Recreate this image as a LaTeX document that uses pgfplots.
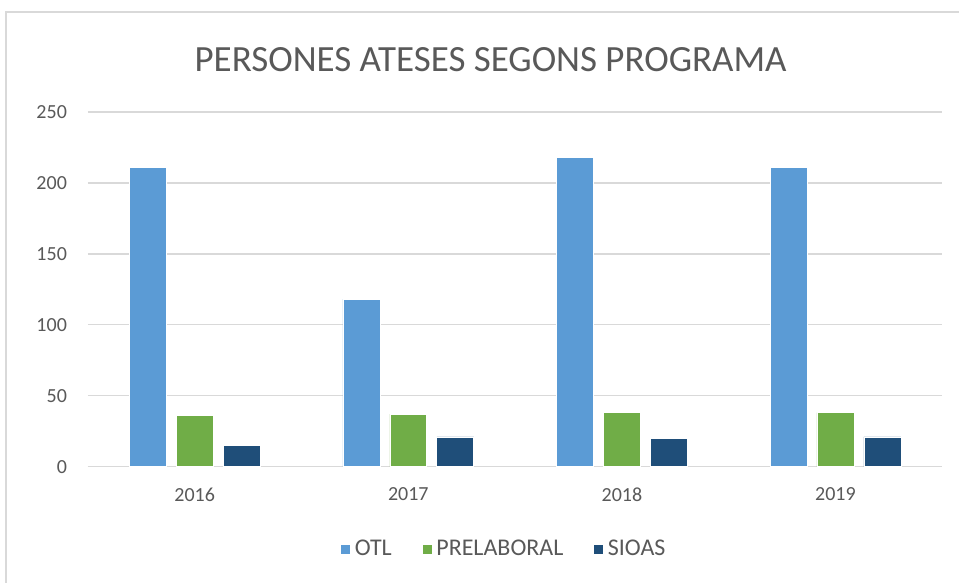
\documentclass[border=0pt]{standalone}
\usepackage{pgfplots}
\pgfplotsset{compat=1.18}
\usepackage{fontspec}
\setmainfont{Carlito}

\definecolor{otl}{HTML}{5B9BD5}
\definecolor{prel}{HTML}{70AD47}
\definecolor{sioas}{HTML}{1F4E79}
\definecolor{gridc}{HTML}{D9D9D9}
\definecolor{txt}{HTML}{595959}

\begin{document}
\begin{tikzpicture}
% canvas: 1px = 0.5pt, origin at the plot's lower left (px 88,467)
\fill[white] (-44pt,-58pt) rectangle (436pt,233.5pt);
\draw[gridc, line width=0.75pt] (-41pt,-58pt) -- (-41pt,227.5pt) -- (436pt,227.5pt);
\begin{axis}[
    at={(0,0)}, anchor=south west,
    scale only axis, width=427.5pt, height=177.5pt,
    ybar=5pt, bar width=18.5pt,
    xmin=-0.5, xmax=3.5, ymin=0, ymax=250,
    xtick=data, xticklabels={2016,2017,2018,2019},
    ytick={0,50,...,250},
    major tick length=0pt,
    axis x line*=bottom, axis y line*=left,
    x axis line style={gridc, line width=0.75pt},
    y axis line style={draw=none},
    ymajorgrids, grid style={gridc, line width=0.75pt},
    tick label style={font=\fontsize{10}{12}\selectfont, text=txt},
    /pgf/number format/assume math mode=true,
    xticklabel style={yshift=-7pt},
    yticklabel style={xshift=-7pt},
    legend style={at={(0.488,-0.234)}, anchor=center, draw=none,
        legend columns=3, font=\fontsize{12}{14}\selectfont, text=txt,
        /tikz/every even column/.append style={column sep=13pt}},
    legend image code/.code={\fill[#1] (0pt,-2.5pt) rectangle (5pt,2.5pt);},
]
\addplot[fill=otl, draw=white, line width=0.3pt] coordinates {(0,211) (1,118) (2,218) (3,211)};
\addlegendentry{OTL}
\addplot[fill=prel, draw=white, line width=0.3pt] coordinates {(0,36) (1,37) (2,38) (3,38)};
\addlegendentry{PRELABORAL}
\addplot[fill=sioas, draw=white, line width=0.3pt] coordinates {(0,15) (1,21) (2,20) (3,21)};
\addlegendentry{SIOAS}
\end{axis}
\node[text=txt, font=\fontsize{18.5}{22}\selectfont] at (201.5pt,203.5pt) {PERSONES ATESES SEGONS PROGRAMA};
\end{tikzpicture}
\end{document}
